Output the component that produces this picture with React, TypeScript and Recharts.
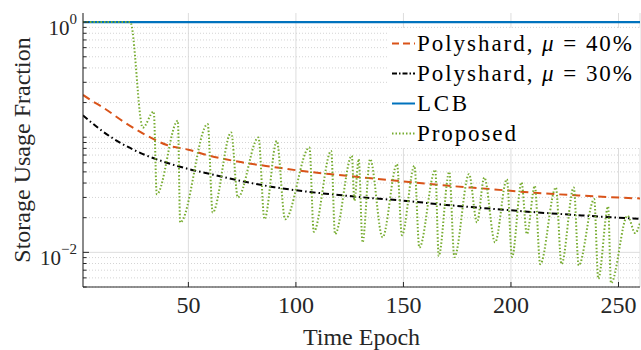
import React from 'react'
import {
  LineChart,
  Line,
  XAxis,
  YAxis,
  CartesianGrid,
  Label,
} from 'recharts'

// Polyshard curves, sampled at these epochs
const polyEpochs = [1, 5, 10, 20, 30, 40, 50, 60, 75, 90, 105, 120, 135, 150, 170, 190, 210, 230, 250, 260]
const poly40 = [0.233, 0.208, 0.183, 0.136, 0.105, 0.0855, 0.0778, 0.069, 0.0605, 0.055, 0.0503, 0.047, 0.044, 0.0413, 0.038, 0.0355, 0.033, 0.0313, 0.0299, 0.0294]
const poly30 = [0.155, 0.134, 0.113, 0.086, 0.07, 0.06, 0.053, 0.048, 0.0415, 0.0368, 0.0337, 0.0315, 0.0296, 0.0281, 0.0258, 0.024, 0.0224, 0.0211, 0.02, 0.0196]

const lcbEpochs = [1, 260]
const lcb = [1, 1]

// proposed scheme: peaks and troughs
const proposedEpochs = [
  1, 23, 28.8, 33.9, 35.3, 45.1, 46.2, 59, 61.3, 69.9, 73, 82.6, 85.4, 91.1, 95,
  106.3, 108.3, 116.4, 118.2, 126, 127.2, 129.2, 131, 134.5, 140.3, 147, 149.3,
  155.1, 157.4, 164.8, 166.4, 171.3, 173.7, 180.5, 184.2, 187.6, 192.6, 198.1,
  200.5, 204.9, 207.4, 211.1, 213.6, 220.9, 223.5, 229.2, 231.5, 238.7, 240.6,
  245.2, 246.5, 254.2, 257.8, 260,
]
const proposed = [
  1, 1, 0.121, 0.167, 0.032, 0.139, 0.0182, 0.13, 0.0222, 0.11, 0.03, 0.0994, 0.0194, 0.0929, 0.0194,
  0.0815, 0.0151, 0.076, 0.0144, 0.069, 0.028, 0.0645, 0.0122, 0.0645, 0.0135, 0.0583, 0.0141,
  0.0564, 0.011, 0.052, 0.0093, 0.05, 0.0091, 0.0478, 0.0182, 0.0447, 0.0122, 0.0432,
  0.0091, 0.0405, 0.0144, 0.0378, 0.0079, 0.0366, 0.0079, 0.0366, 0.0077, 0.029, 0.0059,
  0.025, 0.0054, 0.0208, 0.0147, 0.018,
]

const xTicks = [50, 100, 150, 200, 250]
const yTicks = [
  0.005, 0.006, 0.007, 0.008, 0.009, 0.01,
  0.02, 0.03, 0.04, 0.05, 0.06, 0.07, 0.08, 0.09, 0.1,
  0.2, 0.3, 0.4, 0.5, 0.6, 0.7, 0.8, 0.9, 1,
]
const yMajor = [0.01]
const yMinor = yTicks.filter((v) => v !== 0.01 && v !== 1)
const yLabels: Record<string, string> = { '1': '0', '0.01': '\u22122' }

const toRows = (xs: number[], ys: number[]) => xs.map((t, i) => ({ t, v: ys[i] }))
const poly40Data = toRows(polyEpochs, poly40)
const poly30Data = toRows(polyEpochs, poly30)
const lcbData = toRows(lcbEpochs, lcb)
const proposedData = toRows(proposedEpochs, proposed)

const serif = { fontFamily: "'Liberation Serif', 'DejaVu Serif', 'Times New Roman', serif" }
const INK = '#262626'
const W = 641
const H = 350

const isMajor = (v: number) => v === 1 || v === 0.01

const BottomTick = ({ x, y, payload }: any) => (
  <g>
    <line x1={x} x2={x} y1={y} y2={y - 5} stroke={INK} strokeWidth={1} />
    <text x={x} y={y + 26} textAnchor="middle" style={serif} fontSize={24} fill={INK}>
      {payload.value}
    </text>
  </g>
)

const TopTick = ({ x, y }: any) => (
  <line x1={x} x2={x} y1={y} y2={y + 5} stroke={INK} strokeWidth={1} />
)

const LeftTick = ({ x, y, payload }: any) => {
  const v = payload.value
  const len = isMajor(v) ? 6 : 3.5
  const sup = yLabels[String(v)]
  return (
    <g>
      <line x1={x} x2={x + len} y1={y} y2={y} stroke={INK} strokeWidth={1} />
      {sup !== undefined && (
        <text x={x - 6} y={y + 13} textAnchor="end" style={serif} fontSize={21} fill={INK}>
          10
          <tspan dy={-11} fontSize={15}>{sup}</tspan>
        </text>
      )}
    </g>
  )
}

const RightTick = ({ x, y, payload }: any) => {
  const len = isMajor(payload.value) ? 6 : 3.5
  return <line x1={x} x2={x - len} y1={y} y2={y} stroke={INK} strokeWidth={1} />
}

const legendItems = [
  { name: 'Polyshard, ', mu: '40%', color: '#D95319', dash: '7 4', len: 215 },
  { name: 'Polyshard, ', mu: '30%', color: '#000000', dash: '5 2 1.5 2', len: 215 },
  { name: 'LCB', color: '#0072BD', dash: undefined, len: 50 },
  { name: 'Proposed', color: '#77AC30', dash: '1.5 2', len: 99 },
]

function ChartLegend() {
  return (
    <svg
      width={252}
      height={120}
      style={{ position: 'absolute', left: 388, top: 28 }}
    >
      <rect x={0} y={0} width={252} height={120} fill="#ffffff" />
      {legendItems.map((it, i) => {
        const cy = 15.5 + i * 30
        return (
          <g key={i}>
            <line x1={4} x2={27} y1={cy} y2={cy} stroke={it.color} strokeWidth={2} strokeDasharray={it.dash} />
            <text
              x={29}
              y={cy + 7.5}
              style={serif}
              fontSize={23}
              fill="#000"
              textLength={it.len}
              lengthAdjust="spacing"
            >
              {it.name}
              {it.mu && (
                <>
                  <tspan fontStyle="italic">μ</tspan>
                  {' = ' + it.mu}
                </>
              )}
            </text>
          </g>
        )
      })}
    </svg>
  )
}

export default function App() {
  return (
    <div style={{ position: 'absolute', left: 0, top: 0, width: W, height: H, background: '#fff' }}>
      <LineChart width={W} height={H} margin={{ top: 13, right: 1, bottom: 0, left: 0 }}>
        <CartesianGrid horizontal={false} stroke="#dddddd" strokeWidth={1} />
        <CartesianGrid vertical={false} horizontalValues={yMinor} stroke="#d4d4d4" strokeDasharray="1 2" />
        <CartesianGrid vertical={false} horizontalValues={yMajor} stroke="#dddddd" />
        <XAxis
          dataKey="t"
          type="number"
          domain={[1, 260]}
          ticks={xTicks}
          allowDataOverflow
          height={63}
          tickSize={0}
          tickMargin={0}
          tickLine={false}
          axisLine={{ stroke: INK }}
          tick={<BottomTick />}
          interval={0}
        >
          <Label
            content={({ viewBox }: any) => (
              <text
                x={viewBox.x + viewBox.width / 2}
                y={viewBox.y + 58}
                textAnchor="middle"
                style={serif}
                fontSize={24}
                fill={INK}
              >
                Time Epoch
              </text>
            )}
          />
        </XAxis>
        <XAxis
          xAxisId="top"
          orientation="top"
          type="number"
          domain={[1, 260]}
          ticks={xTicks}
          allowDataOverflow
          height={0}
          tickSize={0}
          tickMargin={0}
          tickLine={false}
          axisLine={{ stroke: INK }}
          tick={<TopTick />}
          interval={0}
        />
        <YAxis
          type="number"
          scale="log"
          domain={[0.005, 1.2]}
          ticks={yTicks}
          allowDataOverflow
          width={83}
          tickSize={0}
          tickMargin={0}
          tickLine={false}
          axisLine={{ stroke: INK }}
          tick={<LeftTick />}
          interval={0}
        >
          <Label
            content={({ viewBox }: any) => {
              const cx = viewBox.x + 22
              const cy = viewBox.y + viewBox.height / 2
              return (
                <text
                  x={cx}
                  y={cy}
                  transform={`rotate(-90 ${cx} ${cy})`}
                  textAnchor="middle"
                  dominantBaseline="central"
                  style={serif}
                  fontSize={24}
                  fill={INK}
                >
                  Storage Usage Fraction
                </text>
              )
            }}
          />
        </YAxis>
        <YAxis
          yAxisId="right"
          orientation="right"
          type="number"
          scale="log"
          domain={[0.005, 1.2]}
          ticks={yTicks}
          allowDataOverflow
          width={0}
          tickSize={0}
          tickMargin={0}
          tickLine={false}
          axisLine={{ stroke: INK }}
          tick={<RightTick />}
          interval={0}
        />
        <Line
          data={lcbData}
          dataKey="v"
          type="linear"
          stroke="#0072BD"
          strokeWidth={2.2}
          dot={false}
          isAnimationActive={false}
        />
        <Line
          data={poly40Data}
          dataKey="v"
          type="monotone"
          stroke="#D95319"
          strokeWidth={2}
          strokeDasharray="8 5"
          dot={false}
          isAnimationActive={false}
        />
        <Line
          data={poly30Data}
          dataKey="v"
          type="monotone"
          stroke="#000000"
          strokeWidth={2}
          strokeDasharray="6 3 1.5 3"
          dot={false}
          isAnimationActive={false}
        />
        <Line
          data={proposedData}
          dataKey="v"
          type="monotone"
          stroke="#77AC30"
          strokeWidth={2}
          strokeDasharray="1.5 2"
          dot={false}
          isAnimationActive={false}
        />
      </LineChart>
      <ChartLegend />
    </div>
  )
}
